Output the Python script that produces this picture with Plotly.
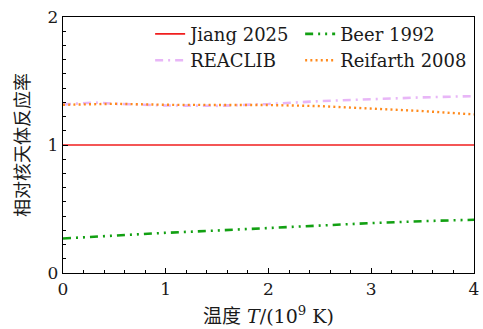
import plotly.graph_objects as go

T = [0.0, 0.3, 0.5, 1.0, 1.5, 2.0, 2.5, 3.0, 3.5, 4.0]
jiang = [1.0] * len(T)
reaclib = [1.317, 1.332, 1.322, 1.309, 1.306, 1.320, 1.343, 1.358, 1.372, 1.382]
reifarth = [1.314, 1.318, 1.322, 1.314, 1.312, 1.312, 1.304, 1.286, 1.265, 1.239]
beer = [0.270, 0.283, 0.296, 0.314, 0.332, 0.353, 0.371, 0.390, 0.405, 0.416]

names = ["Jiang 2025", "Beer 1992", "REACLIB", "Reifarth 2008"]
xticks = [0, 1, 2, 3, 4]
yticks = [0, 1, 2]

fig = go.Figure()
fig.add_trace(go.Scatter(x=T, y=jiang, name=names[0], mode="lines", legend="legend",
                         line=dict(color="#f01e1e", width=1.6)))
fig.add_trace(go.Scatter(x=T, y=beer, name=names[1], mode="lines", legend="legend2",
                         line=dict(color="#12a012", width=2.6, dash="8px,5px,2px,5px,2px,5px")))
fig.add_trace(go.Scatter(x=T, y=reaclib, name=names[2], mode="lines", legend="legend",
                         line=dict(color="#e8b6f7", width=2.6, dash="8px,5px,2px,5px")))
fig.add_trace(go.Scatter(x=T, y=reifarth, name=names[3], mode="lines", legend="legend2",
                         line=dict(color="#ff8a1c", width=2.4, dash="2px,3.2px")))

leg_common = dict(y=1.005, xanchor="left", yanchor="top",
                  font=dict(size=18, family="DejaVu Serif"),
                  bgcolor="rgba(0,0,0,0)", tracegroupgap=0)

fig.update_layout(
    width=483, height=329,
    margin=dict(l=63, r=4, t=17, b=56),
    paper_bgcolor="white", plot_bgcolor="white",
    font=dict(family="DejaVu Serif, Noto Sans CJK SC", color="#1a1a1a", size=15),
    legend=dict(x=0.212, **leg_common),
    legend2=dict(x=0.577, **leg_common),
    showlegend=True,
)
fig.update_xaxes(range=[0, 4], tickvals=xticks, ticktext=[str(v) for v in xticks],
                 showgrid=False, zeroline=False, ticklabeloverflow="allow",
                 showline=True, linecolor="black", linewidth=1.3, mirror=True,
                 ticks="inside", ticklen=5, tickcolor="black", tickwidth=1.2,
                 minor=dict(dtick=0.2, tick0=0, ticks="inside", ticklen=3, tickcolor="black", showgrid=False),
                 tickfont=dict(size=17),
                 title=dict(text="温度 <i>T</i>/(10<sup>9</sup> K)", font=dict(size=19), standoff=12))
fig.update_yaxes(range=[0, 2], tickvals=yticks, ticktext=[str(v) for v in yticks],
                 showgrid=False, zeroline=False, ticklabeloverflow="allow",
                 showline=True, linecolor="black", linewidth=1.3, mirror=True,
                 ticks="inside", ticklen=5, tickcolor="black", tickwidth=1.2,
                 minor=dict(dtick=1/9, tick0=0, ticks="inside", ticklen=3, tickcolor="black", showgrid=False),
                 tickfont=dict(size=17),
                 title=dict(text="相对核天体反应率", font=dict(size=18, family="Noto Sans CJK SC"), standoff=13))

fig.write_html("out.html")
